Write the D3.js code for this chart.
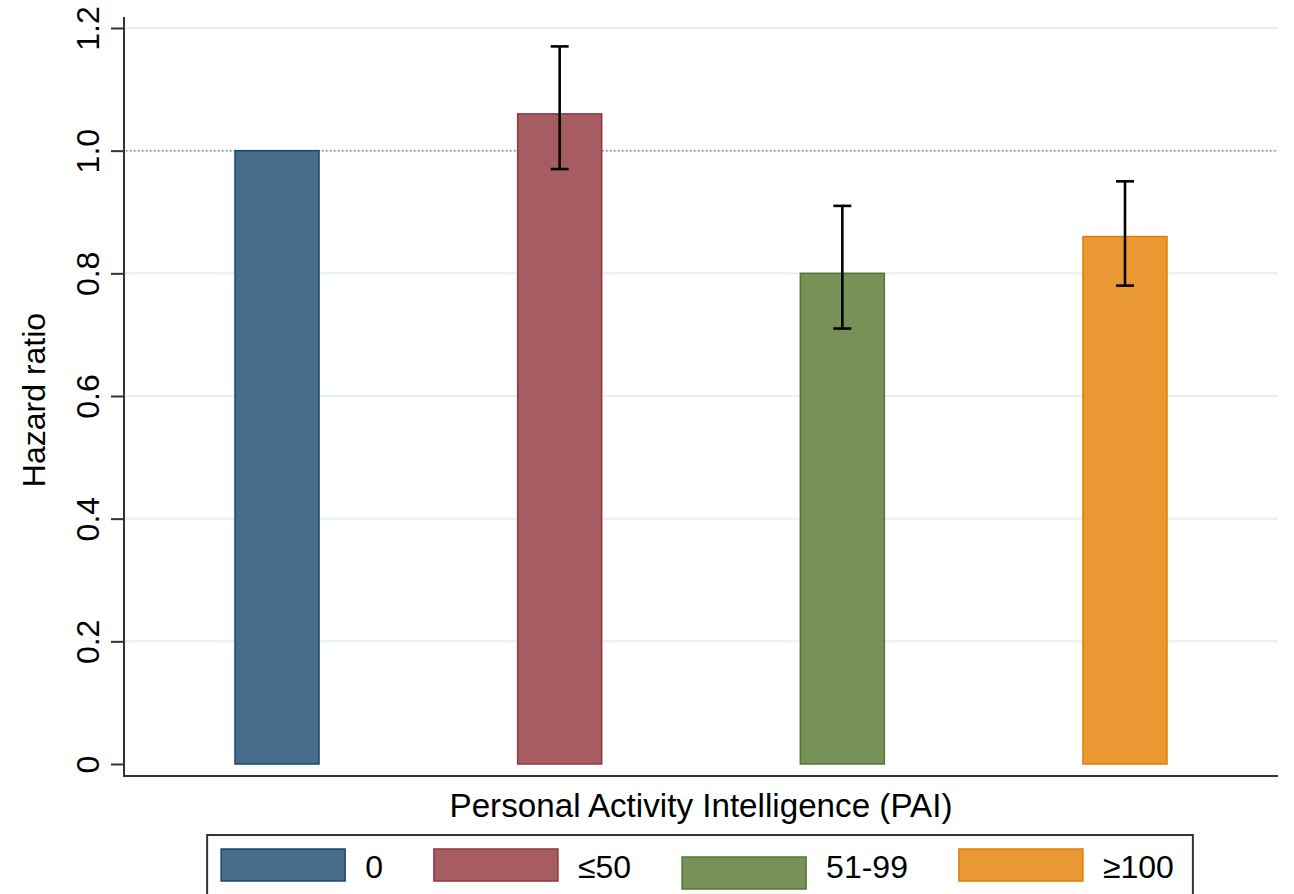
<!DOCTYPE html>
<html>
<head>
<meta charset="utf-8">
<script src="https://cdn.jsdelivr.net/npm/d3@7"></script>
<style>
  html, body { margin: 0; padding: 0; background: #ffffff; }
  svg { display: block; font-family: "Liberation Sans", Arial, sans-serif; }
</style>
</head>
<body>
<svg id="chart" width="1294" height="894"></svg>
<script>
// PAI groups and their hazard ratios with 95% confidence intervals
const categories = ["0", "≤50", "51-99", "≥100"];
const hazardRatio = [1.00, 1.06, 0.80, 0.86];
const ciLower = [null, 0.97, 0.71, 0.78];
const ciUpper = [null, 1.17, 0.91, 0.95];
const yTicks = [0, 0.2, 0.4, 0.6, 0.8, 1.0, 1.2];
const yTickLabels = ["0", "0.2", "0.4", "0.6", "0.8", "1.0", "1.2"];
const referenceValue = 1.0;

const fills = ["#486c8c", "#a65d62", "#779159", "#e99833"];
const strokes = ["#1a476f", "#90353b", "#55752f", "#e37e00"];

(function draw() {
  const svg = d3.select("#chart");

  // plot region
  const plotLeft = 124, plotRight = 1278, plotTop = 17, plotBottom = 776;

  const y = d3.scaleLinear().domain([0, 1.2]).range([764, 28]);
  const x = d3.scaleBand()
    .domain(categories)
    .range([plotLeft, plotRight])
    .paddingInner(0.7028)
    .paddingOuter(0.3927);

  const axisColor = "#333333";

  // horizontal grid lines
  svg.append("g")
    .selectAll("line")
    .data(yTicks.filter(d => d > 0))
    .join("line")
    .attr("x1", plotLeft + 1).attr("x2", plotRight)
    .attr("y1", d => y(d)).attr("y2", d => y(d))
    .attr("stroke", "#e7eff1")
    .attr("stroke-width", 2);

  // dotted reference line at HR = 1
  svg.append("line")
    .attr("x1", plotLeft + 2).attr("x2", plotRight)
    .attr("y1", y(referenceValue)).attr("y2", y(referenceValue))
    .attr("stroke", "#7c8c8c")
    .attr("stroke-width", 1.5)
    .attr("stroke-dasharray", "1.5,2.5");

  // bars
  svg.append("g")
    .selectAll("rect")
    .data(categories)
    .join("rect")
    .attr("x", d => x(d))
    .attr("width", x.bandwidth())
    .attr("y", (d, i) => y(hazardRatio[i]))
    .attr("height", (d, i) => y(0) - y(hazardRatio[i]))
    .attr("fill", (d, i) => fills[i])
    .attr("stroke", (d, i) => strokes[i])
    .attr("stroke-width", 1.5);

  // confidence intervals
  const ciData = categories.map((c, i) => ({ c, lo: ciLower[i], hi: ciUpper[i] }))
    .filter(d => d.lo != null);
  const capHalf = 9;
  const cxOf = d => x(d.c) + x.bandwidth() / 2;
  const ci = svg.append("g").attr("stroke", "#000").attr("stroke-width", 2.6);
  ci.selectAll("line.stem").data(ciData).join("line").attr("class", "stem")
    .attr("x1", cxOf).attr("x2", cxOf)
    .attr("y1", d => y(d.lo)).attr("y2", d => y(d.hi));
  ci.selectAll("line.capHi").data(ciData).join("line").attr("class", "capHi")
    .attr("x1", d => cxOf(d) - capHalf).attr("x2", d => cxOf(d) + capHalf)
    .attr("y1", d => y(d.hi)).attr("y2", d => y(d.hi));
  ci.selectAll("line.capLo").data(ciData).join("line").attr("class", "capLo")
    .attr("x1", d => cxOf(d) - capHalf).attr("x2", d => cxOf(d) + capHalf)
    .attr("y1", d => y(d.lo)).attr("y2", d => y(d.lo));

  // y axis
  const yAxis = d3.axisLeft(y)
    .tickValues(yTicks)
    .tickFormat((d, i) => yTickLabels[i])
    .tickSize(13);
  const gy = svg.append("g").attr("transform", `translate(${plotLeft},0)`).call(yAxis);
  gy.select(".domain").remove();
  gy.selectAll(".tick line").attr("stroke", axisColor).attr("stroke-width", 2);
  gy.selectAll(".tick text")
    .attr("x", 0).attr("y", -25).attr("dy", null)
    .attr("transform", "rotate(-90)")
    .attr("text-anchor", "middle")
    .attr("fill", "#000")
    .style("font-size", "32px")
    .style("font-family", '"Liberation Sans", Arial, sans-serif');

  // axis lines
  svg.append("line")
    .attr("x1", plotLeft).attr("x2", plotLeft).attr("y1", plotTop).attr("y2", plotBottom + 1)
    .attr("stroke", axisColor).attr("stroke-width", 2);
  svg.append("line")
    .attr("x1", plotLeft).attr("x2", plotRight).attr("y1", plotBottom).attr("y2", plotBottom)
    .attr("stroke", axisColor).attr("stroke-width", 2);

  // axis titles
  svg.append("text")
    .attr("x", (plotLeft + plotRight) / 2).attr("y", 817)
    .attr("text-anchor", "middle")
    .style("font-size", "33.2px")
    .text("Personal Activity Intelligence (PAI)");

  svg.append("text")
    .attr("transform", `translate(45,${(y(0) + y(1.2)) / 2 + 4}) rotate(-90)`)
    .attr("text-anchor", "middle")
    .style("font-size", "32px")
    .text("Hazard ratio");

  // legend
  const keyW = 124, keyH = 32, keyGap = 20, colGap = 51;
  const legend = svg.append("g");
  const box = legend.append("rect");
  const labels = legend.selectAll("text").data(categories).join("text")
    .style("font-size", "32px")
    .text(d => d);
  const widths = [];
  labels.each(function () { widths.push(this.getComputedTextLength()); });
  const total = d3.sum(widths) + categories.length * (keyW + keyGap) + (categories.length - 1) * colGap;
  let cursor = (plotLeft + plotRight) / 2 - total / 2 - 3.5;
  const keyX = [];
  categories.forEach((c, i) => { keyX.push(cursor); cursor += keyW + keyGap + widths[i] + colGap; });

  const keyTop = 849;
  const keyShift = [0, 0, 8, 0];
  box.attr("x", keyX[0] - 14).attr("y", 835)
    .attr("width", total + 33).attr("height", 120)
    .attr("fill", "#fff").attr("stroke", axisColor).attr("stroke-width", 2);
  legend.selectAll("rect.key").data(categories).join("rect").attr("class", "key")
    .attr("x", (d, i) => keyX[i])
    .attr("y", (d, i) => keyTop + keyShift[i])
    .attr("width", keyW).attr("height", keyH)
    .attr("fill", (d, i) => fills[i])
    .attr("stroke", (d, i) => strokes[i])
    .attr("stroke-width", 1.5);
  labels
    .attr("x", (d, i) => keyX[i] + keyW + keyGap)
    .attr("y", 878);
})();
</script>
</body>
</html>
